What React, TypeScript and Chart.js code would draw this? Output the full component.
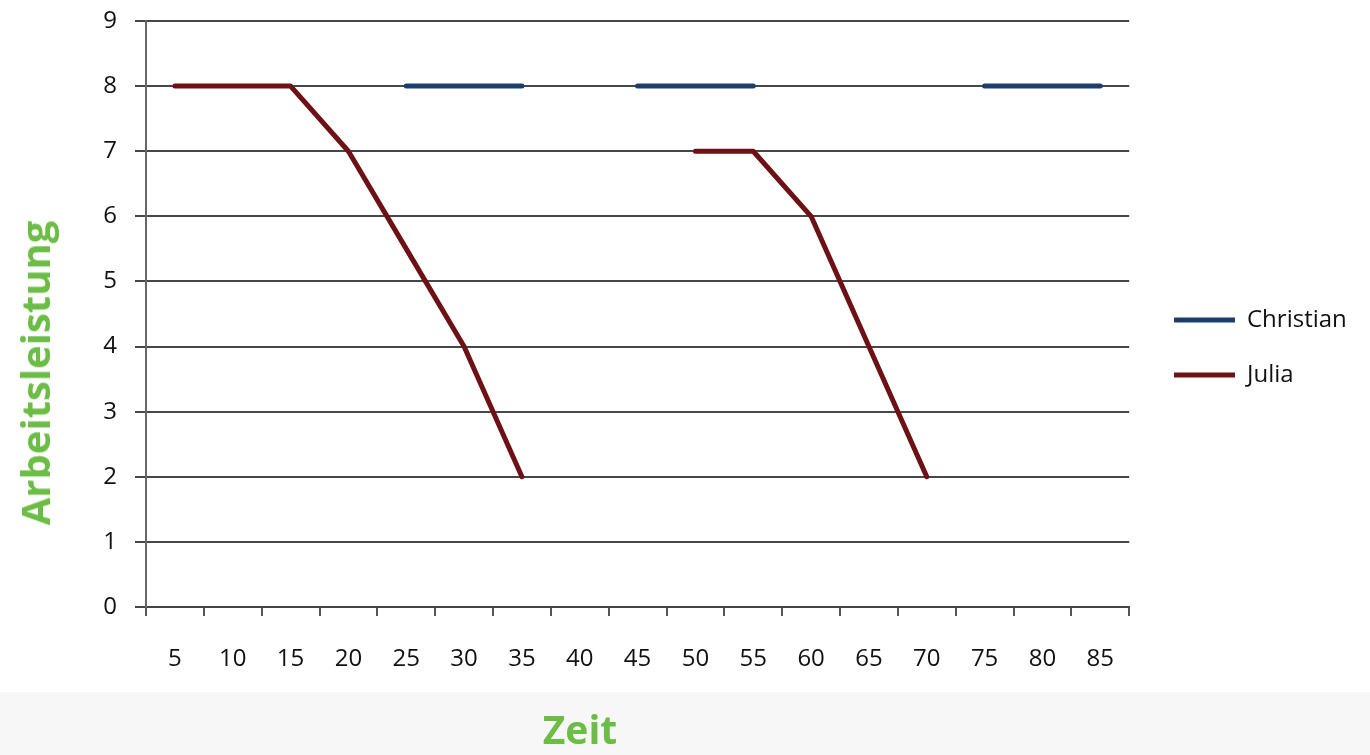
import React, { useEffect, useRef } from 'react';
import { Chart, registerables } from 'chart.js';

Chart.register(...registerables);

const categories = ['5', '10', '15', '20', '25', '30', '35', '40', '45', '50', '55', '60', '65', '70', '75', '80', '85'];
const christianValues = [null, null, null, null, 8, 8, 8, null, 8, 8, 8, null, null, null, 8, 8, 8];
const juliaValues = [8, 8, 8, 7, 5.5, 4, 2, null, null, 7, 7, 6, 4, 2, null, null, null];
const seriesNames = ['Christian', 'Julia'];
const yMin = 0;
const yMax = 9;
const yStep = 1;
const xTitle = 'Zeit';
const yTitle = 'Arbeitsleistung';

const W = 1370;
const H = 755;
const GREEN = '#6cbd45';

const legendPlacer = {
  id: 'legendPlacer',
  afterLayout(chart: any) {
    const lg = chart.legend;
    if (!lg) return;
    lg.left = 1143;
    lg.right = W;
    lg.top = 200;
    lg.bottom = 495;
    lg.width = lg.right - lg.left;
    lg.height = lg.bottom - lg.top;
  },
};

export default function App() {
  const canvasRef = useRef<HTMLCanvasElement | null>(null);

  useEffect(() => {
    if (!canvasRef.current) return;
    const chart = new Chart(canvasRef.current, {
      type: 'line',
      data: {
        labels: categories,
        datasets: [
          {
            label: seriesNames[0],
            data: christianValues,
            borderColor: '#1d3e6c',
            backgroundColor: '#1d3e6c',
            borderWidth: 5,
            borderCapStyle: 'round',
            borderJoinStyle: 'round',
            pointRadius: 0,
            spanGaps: false,
            order: 1,
          },
          {
            label: seriesNames[1],
            data: juliaValues,
            borderColor: '#6e1114',
            backgroundColor: '#6e1114',
            borderWidth: 5,
            borderCapStyle: 'round',
            borderJoinStyle: 'round',
            pointRadius: 0,
            spanGaps: false,
            order: 0,
          },
        ],
      },
      options: {
        animation: false,
        responsive: true,
        maintainAspectRatio: false,
        layout: { padding: { top: 21, right: 27, bottom: 0, left: 0 } },
        plugins: {
          tooltip: { enabled: false },
          legend: {
            position: 'right',
            reverse: true,
            labels: {
              usePointStyle: true,
              pointStyle: 'line',
              pointStyleWidth: 61,
              boxHeight: 24,
              padding: 31,
              color: '#111',
              font: { family: '"Open Sans", sans-serif', size: 24 },
            },
          },
        },
        scales: {
          x: {
            type: 'category',
            offset: true,
            afterFit: (s: any) => {
              s.height = H - 607;
            },
            grid: {
              offset: true,
              drawOnChartArea: false,
              drawTicks: true,
              tickLength: 9,
              color: '#555',
              lineWidth: 2,
            },
            border: { display: true, color: '#444', width: 2 },
            ticks: {
              color: '#111',
              padding: 29,
              maxRotation: 0,
              autoSkip: false,
              font: { family: '"Open Sans", sans-serif', size: 24 },
            },
          },
          y: {
            min: yMin,
            max: yMax,
            afterFit: (s: any) => {
              s.width = 146;
              s.paddingTop = 10;
              s.paddingBottom = 10;
            },
            grid: {
              color: '#474747',
              lineWidth: 2,
              tickLength: 11,
              drawTicks: true,
            },
            border: { display: true, color: '#666', width: 2 },
            ticks: {
              stepSize: yStep,
              color: '#111',
              padding: 18,
              font: { family: '"Open Sans", sans-serif', size: 24 },
            },
          },
        },
      },
      plugins: [legendPlacer],
    } as any);
    return () => chart.destroy();
  }, []);

  return (
    <div style={{ position: 'absolute', left: 0, top: 0, width: W, height: H, background: '#ffffff', overflow: 'hidden' }}>
      <div style={{ position: 'absolute', left: 0, top: 692, width: W, height: H - 692, background: '#f7f7f7' }} />
      <div style={{ position: 'absolute', left: 0, top: 0, width: W, height: H }}>
        <canvas ref={canvasRef} />
      </div>
      <div
        style={{
          position: 'absolute',
          left: 580,
          top: 709,
          transform: 'translateX(-50%)',
          fontFamily: '"Open Sans", sans-serif',
          fontWeight: 700,
          fontSize: 39,
          lineHeight: 1,
          color: GREEN,
          whiteSpace: 'nowrap',
        }}
      >
        {xTitle}
      </div>
      <div
        style={{
          position: 'absolute',
          left: 35,
          top: 373,
          transform: 'translate(-50%, -50%) rotate(-90deg)',
          fontFamily: '"Open Sans", sans-serif',
          fontWeight: 700,
          fontSize: 40,
          lineHeight: 1,
          color: GREEN,
          whiteSpace: 'nowrap',
        }}
      >
        {yTitle}
      </div>
    </div>
  );
}
